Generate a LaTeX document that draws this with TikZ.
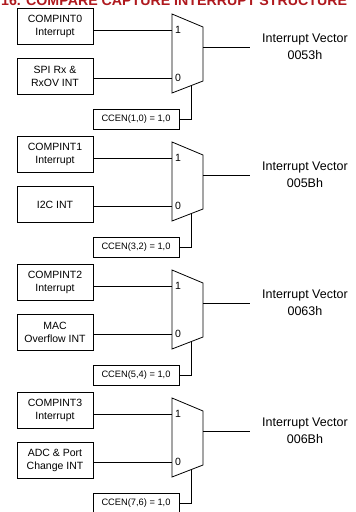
\documentclass[tikz,border=0pt]{standalone}
\usepackage{fontspec}
\setmainfont{Liberation Sans}
\usetikzlibrary{positioning,calc}
\definecolor{titlered}{RGB}{175,25,30}
\tikzset{
  src/.style={draw,line width=0.8pt,minimum width=76pt,minimum height=36pt,align=center,font=\fontsize{10.5}{12.5}\selectfont,inner sep=1pt},
  selbox/.style={draw,line width=0.8pt,minimum width=86pt,minimum height=20pt,font=\fontsize{9.3}{11}\selectfont,inner sep=1pt},
  vec/.style={align=center,font=\fontsize{12.5}{17}\selectfont,inner sep=0pt},
  pin/.style={font=\fontsize{10.5}{12}\selectfont,inner sep=0pt,anchor=west,xshift=3pt},
  wire/.style={line width=0.8pt},
}
% one compare/capture unit: #1 index, #2 offset, #3 other source, #4 CCEN bits, #5 vector
\newcommand{\ccunit}[5]{%
  \begin{scope}[yshift=-#2pt]
    \node[src] (cmp#1) at (55,26.5) {COMPINT#1\\Interrupt};
    \node[src] (oth#1) at (55,76.5) {#3};
    \coordinate (tl#1) at (172,14); \coordinate (tr#1) at (203,27);
    \coordinate (br#1) at (203,81); \coordinate (bl#1) at (172,93);
    \draw[wire] (tl#1) -- (tr#1) -- (br#1) -- (bl#1) -- cycle;
    \coordinate (ina#1) at (172,30); \coordinate (inb#1) at (172,78);
    \draw[wire] (cmp#1.east |- ina#1) -- (ina#1);
    \draw[wire] (oth#1.east |- inb#1) -- (inb#1);
    \node[pin] (one#1) at (ina#1) {1};
    \node[pin] (zero#1) at (inb#1) {0};
    \coordinate (o#1) at (203,47); \coordinate (e#1) at (250,47);
    \draw[wire] (o#1) -- (e#1);
    \node[vec,right=12pt of e#1] (vec#1) {Interrupt Vector\\#5};
    \coordinate (s#1) at ($(bl#1)!0.61!(br#1)$);
    \node[selbox] (ccen#1) at (136,119) {CCEN(#4) = 1,0};
    \draw[wire] (s#1) |- (ccen#1.east);
  \end{scope}}

\begin{document}
\begin{tikzpicture}[x=1pt,y=-1pt]
  \useasboundingbox (0,0) rectangle (356,512);
  \node[font=\bfseries\fontsize{14.2}{16}\selectfont,text=titlered,anchor=base west,inner sep=0pt] (title) at (1,5) {16. COMPARE CAPTURE INTERRUPT STRUCTURE};
  \ccunit{0}{0}{SPI Rx \&\\RxOV INT}{1,0}{0053h}
  \ccunit{1}{128}{I2C INT}{3,2}{005Bh}
  \ccunit{2}{256}{MAC\\Overflow INT}{5,4}{0063h}
  \ccunit{3}{384}{ADC \& Port\\Change INT}{7,6}{006Bh}
\end{tikzpicture}
\end{document}
